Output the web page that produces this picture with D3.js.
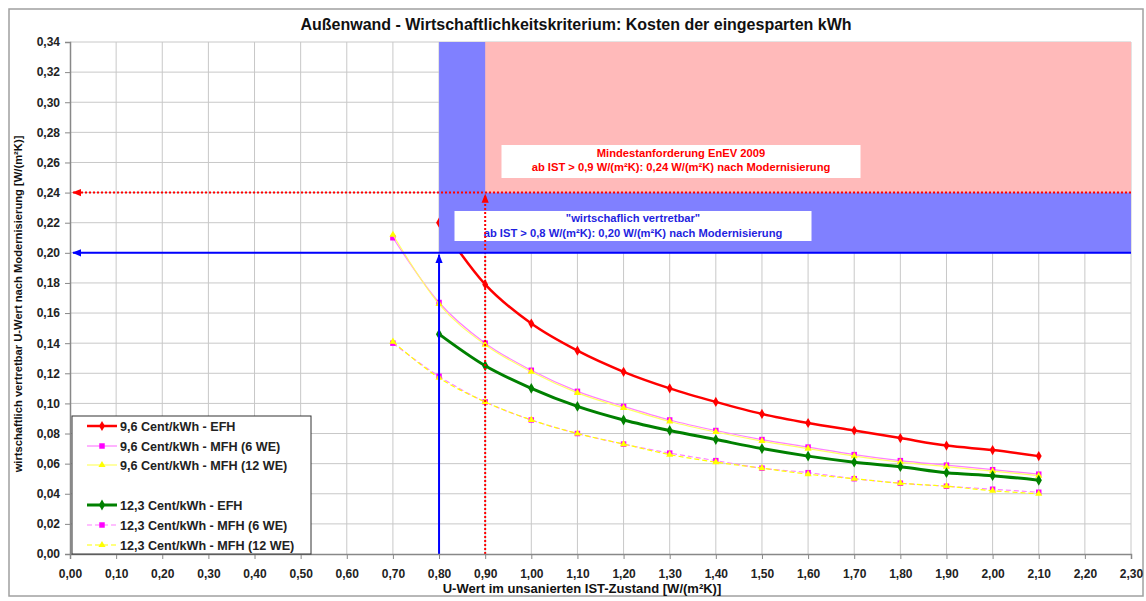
<!DOCTYPE html>
<html>
<head>
<meta charset="utf-8">
<script src="https://cdn.jsdelivr.net/npm/d3@7"></script>
<style>
  body { margin: 0; background: #fff; }
  svg { font-family: "Liberation Sans", Arial, sans-serif; }
</style>
</head>
<body>
<svg id="chart" width="1146" height="601"></svg>
<script>
var chartTitle = "Außenwand - Wirtschaftlichkeitskriterium: Kosten der eingesparten kWh";
var xTitle = "U-Wert im unsanierten IST-Zustand [W/(m²K)]";
var yTitle = "wirtschaftlich vertretbar U-Wert nach Modernisierung [W/(m²K)]";

// U-Wert IST-Zustand
var uIst = [0.7, 0.8, 0.9, 1.0, 1.1, 1.2, 1.3, 1.4, 1.5, 1.6, 1.7, 1.8, 1.9, 2.0, 2.1];

// 9,6 Cent/kWh
var efh96 = [null, 0.220, 0.179, 0.153, 0.135, 0.121, 0.110, 0.101, 0.093, 0.087, 0.082, 0.077, 0.072, 0.069, 0.065];
var mfh6_96 = [0.210, 0.167, 0.140, 0.122, 0.108, 0.098, 0.089, 0.082, 0.076, 0.071, 0.066, 0.062, 0.059, 0.056, 0.053];
var mfh12_96 = [0.212, 0.166, 0.139, 0.121, 0.107, 0.097, 0.088, 0.081, 0.075, 0.070, 0.065, 0.061, 0.058, 0.055, 0.052];
// 12,3 Cent/kWh
var efh123 = [null, 0.146, 0.125, 0.110, 0.098, 0.089, 0.082, 0.076, 0.070, 0.065, 0.061, 0.058, 0.054, 0.052, 0.049];
var mfh6_123 = [0.140, 0.118, 0.101, 0.089, 0.080, 0.073, 0.067, 0.062, 0.057, 0.054, 0.050, 0.047, 0.045, 0.043, 0.041];
var mfh12_123 = [0.141, 0.117, 0.101, 0.089, 0.080, 0.073, 0.066, 0.061, 0.057, 0.053, 0.050, 0.047, 0.045, 0.042, 0.040];

var seriesNames = [
  "9,6 Cent/kWh - EFH",
  "9,6 Cent/kWh - MFH (6 WE)",
  "9,6 Cent/kWh - MFH (12 WE)",
  "12,3 Cent/kWh - EFH",
  "12,3 Cent/kWh - MFH (6 WE)",
  "12,3 Cent/kWh - MFH (12 WE)"
];

var xTicks = d3.range(0, 24).map(function(i) { return i / 10; });
var yTicks = d3.range(0, 18).map(function(i) { return i / 50; });

// Grenzwerte
var enevIst = 0.9, enevNeu = 0.24;
var wirtIst = 0.8, wirtNeu = 0.20;
var enevText = ["Mindestanforderung EnEV 2009", "ab IST > 0,9 W/(m²K): 0,24 W/(m²K) nach Modernisierung"];
var wirtText = ["\"wirtschaflich vertretbar\"", "ab IST > 0,8 W/(m²K): 0,20 W/(m²K) nach Modernisierung"];

var svg = d3.select("#chart");
var x = d3.scaleLinear().domain([0, 2.3]).range([70, 1131]);
var y = d3.scaleLinear().domain([0, 0.34]).range([554, 42]);
var fmt = function(v) { return d3.format(".2f")(v).replace(".", ","); };

// outer frame
svg.append("rect").attr("x", 9).attr("y", 9).attr("width", 1134).attr("height", 587)
  .attr("fill", "#fff").attr("stroke", "#a0a0a0").attr("stroke-width", 1.5);

svg.append("text").attr("x", 576).attr("y", 30).attr("text-anchor", "middle")
  .attr("font-size", 16).attr("font-weight", "bold").attr("fill", "#111").text(chartTitle);

// grid
var grid = svg.append("g").attr("stroke", "#c8c8c8").attr("stroke-width", 1);
grid.selectAll("line.v").data(xTicks.slice(1)).enter().append("line")
  .attr("x1", function(d) { return x(d); }).attr("x2", function(d) { return x(d); })
  .attr("y1", y(0)).attr("y2", y(0.34));
grid.selectAll("line.h").data(yTicks.slice(1)).enter().append("line")
  .attr("x1", x(0)).attr("x2", x(2.3))
  .attr("y1", function(d) { return y(d); }).attr("y2", function(d) { return y(d); });

// series
var series = [
  {name: seriesNames[0], values: efh96, color: "#ff0000", width: 2.5, dash: null, marker: "diamond", mcolor: "#ff0000", size: 30},
  {name: seriesNames[1], values: mfh6_96, color: "#ff80ff", width: 1.2, dash: null, marker: "square", mcolor: "#ff00ff", size: 30},
  {name: seriesNames[2], values: mfh12_96, color: "#ffff66", width: 1.2, dash: null, marker: "triangle", mcolor: "#ffff00", size: 22},
  {name: seriesNames[3], values: efh123, color: "#008000", width: 3, dash: null, marker: "diamond", mcolor: "#008000", size: 34},
  {name: seriesNames[4], values: mfh6_123, color: "#ff80ff", width: 1.2, dash: "5,3", marker: "square", mcolor: "#ff00ff", size: 30},
  {name: seriesNames[5], values: mfh12_123, color: "#ffff00", width: 1.2, dash: "5,3", marker: "triangle", mcolor: "#ffff00", size: 22}
];
var symbolOf = {diamond: d3.symbolDiamond, square: d3.symbolSquare, triangle: d3.symbolTriangle};

var line = d3.line()
  .defined(function(d) { return d[1] !== null; })
  .x(function(d) { return x(d[0]); })
  .y(function(d) { return y(d[1]); })
  .curve(d3.curveMonotoneX);

var plot = svg.append("g");
series.forEach(function(s) {
  var pts = uIst.map(function(u, i) { return [u, s.values[i]]; });
  plot.append("path").datum(pts).attr("d", line)
    .attr("fill", "none").attr("stroke", s.color).attr("stroke-width", s.width)
    .attr("stroke-dasharray", s.dash);
  plot.selectAll(null).data(pts.filter(function(p) { return p[1] !== null; })).enter().append("path")
    .attr("transform", function(p) { return "translate(" + x(p[0]) + "," + y(p[1]) + ")"; })
    .attr("d", d3.symbol().type(symbolOf[s.marker]).size(s.size))
    .attr("fill", s.mcolor);
});

// shaded regions
svg.append("rect").attr("x", x(wirtIst)).attr("y", y(0.34))
  .attr("width", x(2.3) - x(wirtIst)).attr("height", y(wirtNeu) - y(0.34))
  .attr("fill", "#8080ff");
svg.append("rect").attr("x", x(enevIst)).attr("y", y(0.34))
  .attr("width", x(2.3) - x(enevIst)).attr("height", y(enevNeu) - y(0.34))
  .attr("fill", "#ffbaba");

// text boxes
function textBox(cx, top, w, h, lines, color, first) {
  svg.append("rect").attr("x", cx - w / 2).attr("y", top).attr("width", w).attr("height", h).attr("fill", "#fff");
  svg.append("text").attr("x", cx).attr("y", top + first).attr("text-anchor", "middle")
    .attr("font-size", 11.2).attr("font-weight", "bold").attr("fill", color)
    .selectAll("tspan").data(lines).enter().append("tspan")
    .attr("x", cx).attr("dy", function(d, i) { return i === 0 ? 0 : 14.5; })
    .text(function(d) { return d; });
}
textBox(681, 145, 359, 33, enevText, "#ff0000", 11.5);
textBox(633, 211, 357, 30, wirtText, "#1f1fe0", 11);

// arrow markers
var defs = svg.append("defs");
[["arrRed", "#ff0000"], ["arrBlue", "#0000ff"]].forEach(function(a) {
  defs.append("marker").attr("id", a[0]).attr("viewBox", "0 0 10 10")
    .attr("refX", 9).attr("refY", 5)
    .attr("markerUnits", "userSpaceOnUse").attr("orient", "auto")
    .attr("markerWidth", 9).attr("markerHeight", 9)
    .append("path").attr("d", "M0,1L10,5L0,9Z").attr("fill", a[1]);
});

// reference lines
svg.append("line").attr("x1", x(2.3)).attr("x2", x(0) + 3).attr("y1", y(enevNeu)).attr("y2", y(enevNeu))
  .attr("stroke", "#ff0000").attr("stroke-width", 2).attr("stroke-dasharray", "2,2").attr("marker-end", "url(#arrRed)");
svg.append("line").attr("x1", x(enevIst)).attr("x2", x(enevIst)).attr("y1", y(0)).attr("y2", y(enevNeu) + 2)
  .attr("stroke", "#ff0000").attr("stroke-width", 2).attr("stroke-dasharray", "2,2").attr("marker-end", "url(#arrRed)");
svg.append("line").attr("x1", x(2.3)).attr("x2", x(0) + 3).attr("y1", y(wirtNeu)).attr("y2", y(wirtNeu))
  .attr("stroke", "#0000ff").attr("stroke-width", 2).attr("marker-end", "url(#arrBlue)");
svg.append("line").attr("x1", x(wirtIst)).attr("x2", x(wirtIst)).attr("y1", y(0)).attr("y2", y(wirtNeu) + 2)
  .attr("stroke", "#0000ff").attr("stroke-width", 2).attr("marker-end", "url(#arrBlue)");

// axes
var xAxis = svg.append("g").attr("transform", "translate(0," + y(0) + ")")
  .call(d3.axisBottom(x).tickValues(xTicks).tickFormat(fmt).tickSize(5).tickPadding(10));
var yAxis = svg.append("g").attr("transform", "translate(" + x(0) + ",0)")
  .call(d3.axisLeft(y).tickValues(yTicks).tickFormat(fmt).tickSize(5).tickPadding(5));
[xAxis, yAxis].forEach(function(a) {
  a.select(".domain").attr("stroke", "#888").attr("stroke-width", 1.5);
  a.selectAll(".tick line").attr("stroke", "#888");
  a.selectAll(".tick text").attr("font-size", 12).attr("font-weight", "bold").attr("fill", "#222")
    .attr("font-family", "Liberation Sans, Arial, sans-serif");
});

svg.append("text").attr("x", 582).attr("y", 593).attr("text-anchor", "middle")
  .attr("font-size", 13).attr("font-weight", "bold").attr("fill", "#111").text(xTitle);
svg.append("text").attr("transform", "translate(22," + 304 + ") rotate(-90)").attr("text-anchor", "middle")
  .attr("font-size", 11.2).attr("font-weight", "bold").attr("fill", "#111").text(yTitle);

// legend
var legend = svg.append("g");
legend.append("rect").attr("x", 72).attr("y", 416).attr("width", 239).attr("height", 138)
  .attr("fill", "#fff").attr("stroke", "#333").attr("stroke-width", 1);
var legendY = [426, 446, 465, 505, 525, 545];
series.forEach(function(s, i) {
  var ly = legendY[i];
  legend.append("line").attr("x1", 87).attr("x2", 117).attr("y1", ly).attr("y2", ly)
    .attr("stroke", s.color).attr("stroke-width", s.width).attr("stroke-dasharray", s.dash);
  legend.append("path").attr("transform", "translate(102," + ly + ")")
    .attr("d", d3.symbol().type(symbolOf[s.marker]).size(s.size)).attr("fill", s.mcolor);
  legend.append("text").attr("x", 120).attr("y", ly + 4.5).attr("font-size", 12.6)
    .attr("font-weight", "bold").attr("fill", "#222").text(s.name);
});
</script>
</body>
</html>
